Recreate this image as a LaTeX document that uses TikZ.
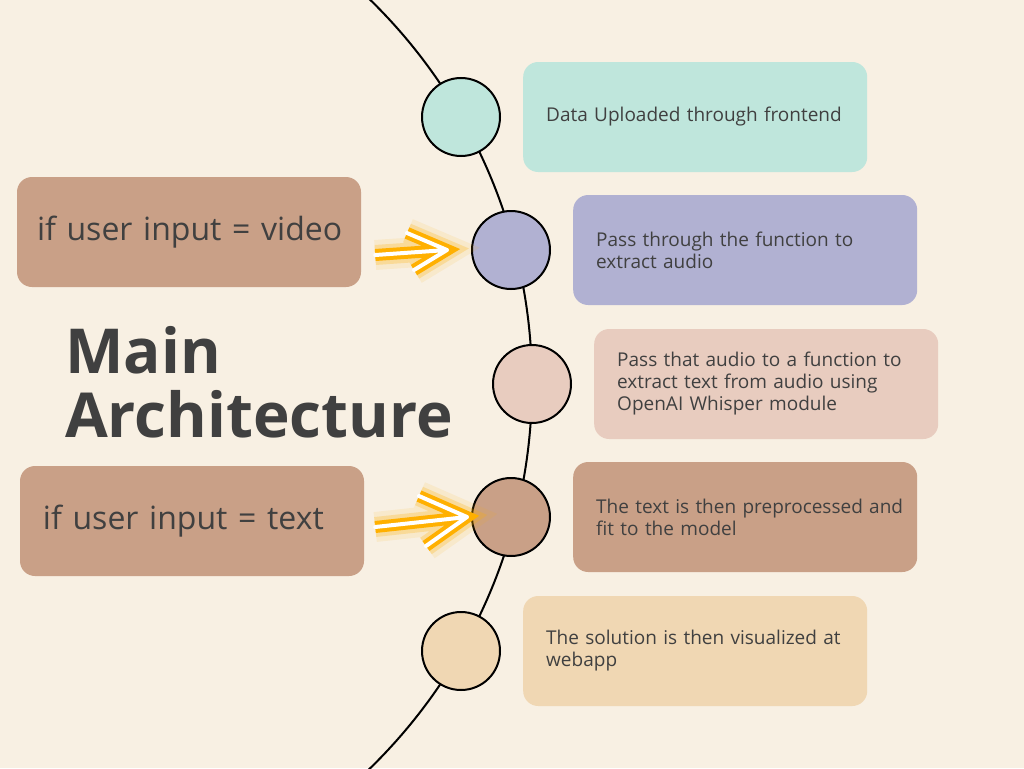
\documentclass[tikz,border=0pt]{standalone}
\usepackage{fontspec}
\setmainfont{Open Sans}
\usetikzlibrary{arrows.meta, positioning}

\definecolor{paper}{HTML}{F8F0E3}
\definecolor{mint}{HTML}{BFE6DC}
\definecolor{lilac}{HTML}{B1B1D2}
\definecolor{blush}{HTML}{E8CCBF}
\definecolor{clay}{HTML}{C9A087}
\definecolor{sand}{HTML}{F0D7B3}
\definecolor{ink}{HTML}{404040}
\definecolor{glowgold}{HTML}{FFB000}

\begin{document}
\begin{tikzpicture}[
        x=1pt, y=-1pt,
        % Stations on the arc: filled circles with black rim
        station/.style = {circle, draw=black, line width=2pt, minimum size=78pt, inner sep=0pt},
        % Step boxes: rounded, no border (wide text box, left indent via leftskip)
        stepbox/.style = {rectangle, rounded corners=15pt, minimum width=344pt, minimum height=110pt,
                          text width=330pt, align=left, inner xsep=7pt,
                          execute at begin node={\leftskip=16pt},
                          font=\fontsize{19}{22}\selectfont, text=ink},
        % Input boxes on the left
        inputbox/.style = {rectangle, rounded corners=15pt, fill=clay, minimum width=344pt, minimum height=110pt,
                           text width=330pt, align=left, inner xsep=7pt,
                           execute at begin node={\leftskip=#1},
                           font=\fontsize{32}{38}\selectfont, text=ink},
        % Glowing arrows: soft halo, gold body, white core
        glow/.style = {line cap=round, line join=round,
                       preaction={draw=glowgold, opacity=0.1, line width=30pt},
                       preaction={draw=glowgold, opacity=0.25, line width=20pt},
                       preaction={draw=glowgold, line width=12pt},
                       draw=white, line width=4pt}
    ]

    % --- Background and page size ---
    \fill[paper] (0,0) rectangle (1024,768);
    \useasboundingbox (0,0) rectangle (1024,768);

    % --- The big arc ---
    \begin{scope}
        \clip (0,0) rectangle (1024,768);
        \draw[line width=2pt] (-5,384) circle[radius=537];
    \end{scope}

    % --- Stations ---
    \node[station, fill=mint]  (c1) at (461,117) {};
    \node[station, fill=lilac] (c2) at (511,250) {};
    \node[station, fill=blush] (c3) at (532,384) {};
    \node[station, fill=clay]  (c4) at (511,517) {};
    \node[station, fill=sand]  (c5) at (461,651) {};

    % --- Steps ---
    \node[stepbox, fill=mint,  right=22pt of c1] (upload) {Data Uploaded through frontend};
    \node[stepbox, fill=lilac, right=22pt of c2] (extract) {Pass through the function to\\extract audio};
    \node[stepbox, fill=blush, right=22pt of c3] (whisper) {Pass that audio to a function to\\extract text from audio using\\OpenAI Whisper module};
    \node[stepbox, fill=clay,  right=22pt of c4] (preproc) {The text is then preprocessed and\\fit to the model};
    \node[stepbox, fill=sand,  right=22pt of c5] (visual) {The solution is then visualized at\\webapp};

    % --- Inputs and title ---
    \node[inputbox=13pt] (video) at (189,232) {if user input = video};
    \node[inputbox=16pt] (text) at (192,521) {if user input = text};
    \node[anchor=west, align=left, inner sep=0pt, text=ink,
          font=\fontsize{62}{64}\selectfont\bfseries] (title) at (65,382) {Main\\Architecture};

    % --- Arrows (tip stops short of the station) ---
    \coordinate (tipv) at ([xshift=-24pt]c2.west);
    \coordinate (tipt) at ([xshift=-4pt]c4.west);
    \draw[glow] ([xshift=14pt, yshift=-23pt]video.east) -- (tipv)
                (tipv) ++(-40,-17) -- (tipv) -- ++(-33,20);
    \draw[glow] ([xshift=11pt, yshift=-6pt]text.east) -- (tipt)
                (tipt) ++(-48,-21) -- (tipt) -- ++(-41,29);

\end{tikzpicture}
\end{document}
